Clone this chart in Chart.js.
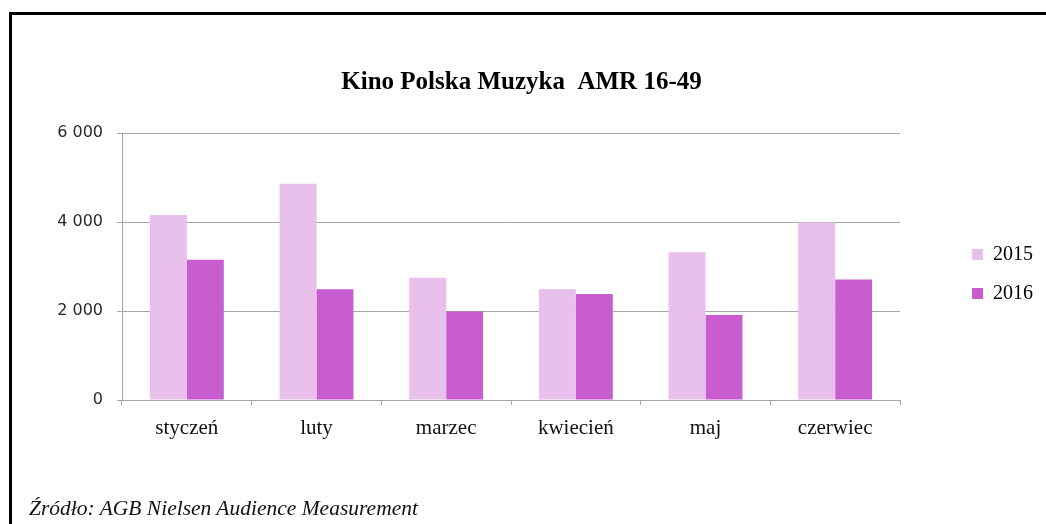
<!DOCTYPE html>
<html>
<head>
<meta charset="utf-8">
<script src="https://cdn.jsdelivr.net/npm/chart.js@4"></script>
<style>
  html, body { margin: 0; padding: 0; background: #fff; }
  body { width: 1046px; height: 524px; position: relative; overflow: hidden; }
  #frame {
    position: absolute; left: 9px; top: 12px; width: 1100px; height: 600px;
    border-top: 3px solid #000; border-left: 3px solid #000;
  }
  #wrap { position: absolute; left: 0; top: 0; width: 1046px; height: 524px; }
  #source {
    position: absolute; left: 29px; top: 496px; line-height: 24px;
    font: italic 21.5px "Liberation Serif", serif; color: #111;
  }
</style>
</head>
<body>
<div id="frame"></div>
<div id="wrap"><canvas id="bar-chart"></canvas></div>
<div id="source">Źródło: AGB Nielsen Audience Measurement</div>
<script>
// categories along the x-axis
var months = ["styczeń", "luty", "marzec", "kwiecień", "maj", "czerwiec"];
// values
var y2015 = [4160, 4860, 2750, 2490, 3320, 3990];
var y2016 = [3150, 2490, 1990, 2380, 1910, 2710];
// y-axis ticks
var yTicks = [0, 2000, 4000, 6000];

var gridColor = "#a6a6a6";

var ctx = document.getElementById("bar-chart");
var myChart = new Chart(ctx, {
  type: 'bar',
  data: {
    labels: months,
    datasets: [
      {
        data: y2015,
        label: "2015",
        backgroundColor: "#e9bfeb",
        categoryPercentage: 0.57,
        barPercentage: 1
      },
      {
        data: y2016,
        label: "2016",
        backgroundColor: "#c85dcf",
        categoryPercentage: 0.57,
        barPercentage: 1
      }
    ]
  },
  options: {
    responsive: true,
    maintainAspectRatio: false,
    animation: false,
    layout: {
      padding: { top: 40, bottom: 16, left: 0, right: 3 }
    },
    plugins: {
      title: {
        display: true,
        text: 'Kino Polska Muzyka  AMR 16-49',
        color: '#000',
        font: { family: '"Liberation Serif", serif', size: 25, weight: 'bold' },
        padding: { top: 28, bottom: 35 }
      },
      legend: {
        position: 'right',
        labels: {
          boxWidth: 11,
          boxHeight: 11,
          padding: 19,
          color: '#000',
          font: { family: '"Liberation Serif", serif', size: 20 }
        }
      },
      tooltip: { enabled: false }
    },
    scales: {
      x: {
        grid: {
          display: true,
          drawOnChartArea: false,
          drawTicks: true,
          tickLength: 5,
          color: gridColor
        },
        border: { color: gridColor },
        ticks: {
          padding: 11,
          color: '#111',
          font: { family: '"Liberation Serif", serif', size: 21 }
        },
        afterFit: function (s) { s.height = 108; }
      },
      y: {
        min: 0,
        max: 6000,
        afterBuildTicks: function (s) {
          s.ticks = yTicks.map(function (v) { return { value: v }; });
        },
        grid: {
          color: gridColor,
          tickLength: 5
        },
        border: { color: gridColor },
        ticks: {
          padding: 14,
          color: '#2a2a2a',
          font: { family: '"DejaVu Sans", sans-serif', size: 16 },
          callback: function (v) {
            return String(v).replace(/\B(?=(\d{3})+(?!\d))/g, ' ');
          }
        },
        afterFit: function (s) { s.width = 122; }
      },
      // empty right-hand scale, keeps the gap between the plot and the legend
      gap: {
        type: 'linear',
        position: 'right',
        grid: { display: false },
        border: { display: false },
        ticks: { display: false },
        afterFit: function (s) { s.width = 53; }
      }
    }
  }
});
</script>
</body>
</html>
